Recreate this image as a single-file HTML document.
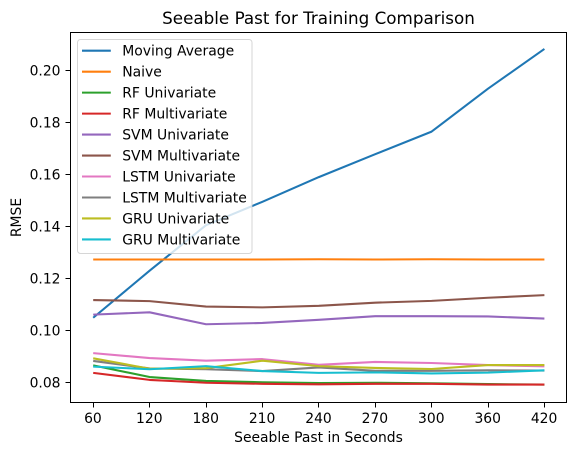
<!DOCTYPE html>
<html>
<head>
<meta charset="utf-8">
<style>
html,body{margin:0;padding:0;background:#fff;width:576px;height:455px;overflow:hidden}
svg{display:block}
text{font-family:"DejaVu Sans",sans-serif;fill:#000}
</style>
</head>
<body>
<svg id="chart" width="576" height="455" viewBox="0 0 576 455" xmlns="http://www.w3.org/2000/svg">
<rect x="70.5" y="32.5" width="496" height="370" fill="#fff"/>
<g id="marks"></g>
<g id="axes"></g>
<rect x="70.5" y="32.5" width="496" height="370" fill="none" stroke="#000" stroke-width="1"/>
<text x="318.5" y="24" font-size="16.75" text-anchor="middle">Seeable Past for Training Comparison</text>
<text x="318.5" y="442" font-size="13.89" text-anchor="middle">Seeable Past in Seconds</text>
<text transform="translate(21 217.5) rotate(-90)" font-size="13.89" text-anchor="middle">RMSE</text>
<g id="legend"></g>
</svg>
<script>
const categories = ["60","120","180","210","240","270","300","360","420"];
const yTicks = [0.08,0.10,0.12,0.14,0.16,0.18,0.20];
const seriesNames = ["Moving Average","Naive","RF Univariate","RF Multivariate","SVM Univariate","SVM Multivariate","LSTM Univariate","LSTM Multivariate","GRU Univariate","GRU Multivariate"];
const seriesColors = ["#1f77b4","#ff7f0e","#2ca02c","#d62728","#9467bd","#8c564b","#e377c2","#7f7f7f","#bcbd22","#17becf"];
const movingAverage = [0.1049,0.1230,0.1405,0.1495,0.1590,0.1678,0.1765,0.1930,0.2083];
const naive = [0.1273,0.1273,0.1273,0.1273,0.1274,0.1273,0.1274,0.1273,0.1273];
const rfUni = [0.0866,0.0821,0.0806,0.0801,0.0798,0.0799,0.0797,0.0794,0.0792];
const rfMulti = [0.0837,0.0810,0.0799,0.0795,0.0793,0.0795,0.0795,0.0792,0.0792];
const svmUni = [0.1061,0.1070,0.1024,0.1029,0.1041,0.1055,0.1055,0.1054,0.1046];
const svmMulti = [0.1117,0.1113,0.1092,0.1089,0.1095,0.1107,0.1114,0.1126,0.1136];
const lstmUni = [0.0913,0.0894,0.0884,0.0890,0.0868,0.0879,0.0875,0.0867,0.0862];
const lstmMulti = [0.0883,0.0854,0.0851,0.0844,0.0858,0.0845,0.0845,0.0847,0.0846];
const gruUni = [0.0893,0.0853,0.0855,0.0884,0.0863,0.0856,0.0852,0.0867,0.0867];
const gruMulti = [0.0861,0.0851,0.0863,0.0844,0.0837,0.0839,0.0835,0.0838,0.0847];
const allSeries = [movingAverage,naive,rfUni,rfMulti,svmUni,svmMulti,lstmUni,lstmMulti,gruUni,gruMulti];

const NS = "http://www.w3.org/2000/svg";
const xScale = i => 93.2 + i * 56.4;
const yScale = v => 382.5 - (v - 0.08) * 2600;
function mk(tag, attrs, parent){
  const el = document.createElementNS(NS, tag);
  for (const k in attrs) el.setAttribute(k, attrs[k]);
  parent.appendChild(el);
  return el;
}
const marks = document.getElementById("marks");
allSeries.forEach((vals, s) => {
  const line = mk("polyline", {points: vals.map((v,i) => xScale(i).toFixed(2)+","+yScale(v).toFixed(2)).join(" "), fill:"none", stroke:seriesColors[s], "stroke-width":2.08, "stroke-linejoin":"round"}, marks);
  
  
});
const axes = document.getElementById("axes");
categories.forEach((c, i) => {
  const x = Math.floor(xScale(i)) + 0.5;
  const tick = mk("line", {x1:x, x2:x, y1:402.5, y2:407.5, stroke:"#000", "stroke-width":1}, axes);
  
  
  const label = mk("text", {x:xScale(i) - 0.3, y:423, "font-size":13.89, "text-anchor":"middle"}, axes);
  
  
  label.textContent = c;
});
yTicks.forEach(t => {
  const y = Math.round(yScale(t) - 0.5) + 0.5;
  const tick = mk("line", {x1:65.5, x2:70.5, y1:y, y2:y, stroke:"#000", "stroke-width":1}, axes);
  
  
  const label = mk("text", {x:60.5, y:yScale(t)+5, "font-size":13.89, "text-anchor":"end"}, axes);
  
  
  label.textContent = t.toFixed(2);
});
const legend = document.getElementById("legend");
const box = mk("rect", {x:77.5, y:39.5, width:174.5, height:214, rx:3, ry:3, fill:"#fff", "fill-opacity":0.8, stroke:"#ccc", "stroke-opacity":0.8, "stroke-width":1}, legend);


seriesNames.forEach((n, i) => {
  const y = 50.7 + i * 20.97;
  const handle = mk("line", {x1:82, x2:110.8, y1:y, y2:y, stroke:seriesColors[i], "stroke-width":2.08}, legend);
  
  
  const label = mk("text", {x:122.2, y:y+5, "font-size":13.95, fill:"#000"}, legend);
  
  
  label.textContent = n;
});
</script>
</body>
</html>
